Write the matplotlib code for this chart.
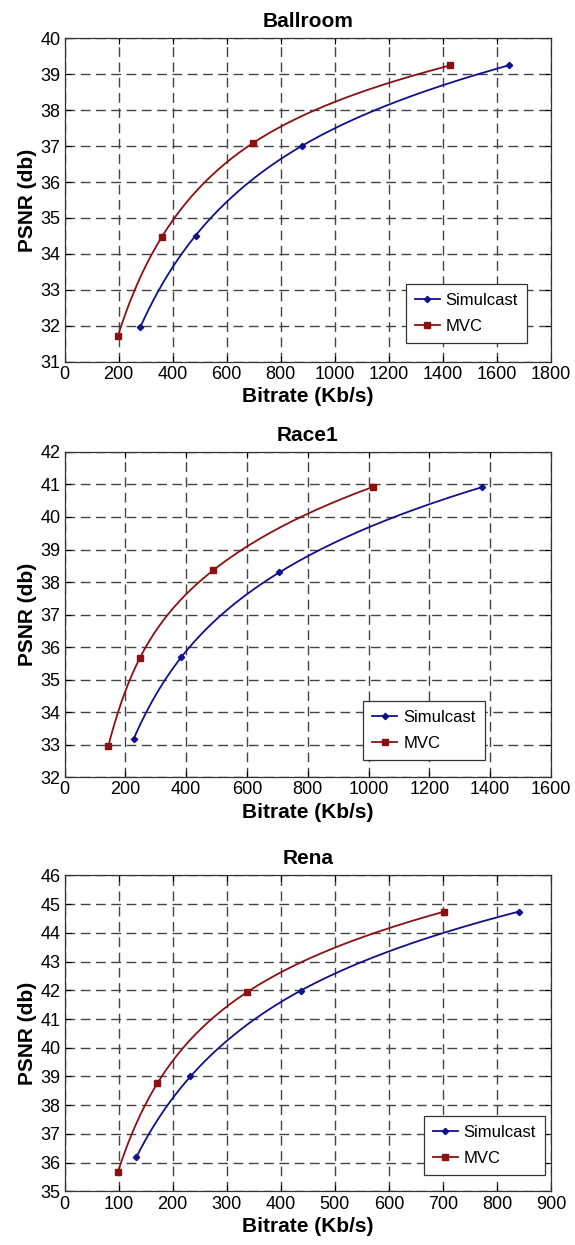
import numpy as np
import matplotlib.pyplot as plt

plt.rcParams['font.family'] = ['Liberation Sans', 'DejaVu Sans']

# ---- data ----
titles = ['Ballroom', 'Race1', 'Rena']

ballroom_sim_rate = [280, 485, 879, 1643]
ballroom_sim_psnr = [31.95, 34.51, 37.01, 39.25]
ballroom_mvc_rate = [198, 359, 698, 1427]
ballroom_mvc_psnr = [31.72, 34.46, 37.09, 39.25]

race_sim_rate = [227, 384, 707, 1374]
race_sim_psnr = [33.17, 35.69, 38.30, 40.92]
race_mvc_rate = [144, 248, 490, 1016]
race_mvc_psnr = [32.96, 35.67, 38.37, 40.93]

rena_sim_rate = [133, 233, 437, 840]
rena_sim_psnr = [36.19, 39.00, 41.99, 44.74]
rena_mvc_rate = [99, 172, 338, 702]
rena_mvc_psnr = [35.69, 38.77, 41.94, 44.74]

x_limits = [(0, 1800, 200), (0, 1600, 200), (0, 900, 100)]
y_limits = [(31, 40), (32, 42), (35, 46)]

BLUE = '#10108c'
RED = '#8c1010'


def smooth_curve(x, y, num=200):
    """natural cubic spline in log(rate) -- only for drawing the line"""
    lx = np.log(np.asarray(x, float))
    y = np.asarray(y, float)
    n = len(lx)
    h = np.diff(lx)
    A = np.zeros((n, n))
    b = np.zeros(n)
    A[0, 0] = A[-1, -1] = 1
    for k in range(1, n - 1):
        A[k, k - 1] = h[k - 1]
        A[k, k] = 2 * (h[k - 1] + h[k])
        A[k, k + 1] = h[k]
        b[k] = 3 * ((y[k + 1] - y[k]) / h[k] - (y[k] - y[k - 1]) / h[k - 1])
    c = np.linalg.solve(A, b)
    bb = (y[1:] - y[:-1]) / h - h * (2 * c[:-1] + c[1:]) / 3
    d = (c[1:] - c[:-1]) / (3 * h)
    xs = np.linspace(lx[0], lx[-1], num)
    idx = np.clip(np.searchsorted(lx, xs) - 1, 0, n - 2)
    t = xs - lx[idx]
    ys = y[idx] + bb[idx] * t + c[idx] * t**2 + d[idx] * t**3
    return np.exp(xs), ys


series = [
    (ballroom_sim_rate, ballroom_sim_psnr, ballroom_mvc_rate, ballroom_mvc_psnr),
    (race_sim_rate, race_sim_psnr, race_mvc_rate, race_mvc_psnr),
    (rena_sim_rate, rena_sim_psnr, rena_mvc_rate, rena_mvc_psnr),
]

fig = plt.figure(figsize=(5.75, 12.45), dpi=100)

# axes boxes in figure fractions (left, bottom, width, height)
boxes = [
    (0.1122, 0.7096, 0.846, 0.2595),
    (0.1122, 0.3757, 0.846, 0.2613),
    (0.1122, 0.0431, 0.846, 0.2537),
]
legend_anchor = [(0.951, 0.057), (0.864, 0.053), (0.988, 0.052)]

for i, box in enumerate(boxes):
    ax = fig.add_axes(box)
    sx, sy, mx, my = series[i]

    ax.plot(*smooth_curve(sx, sy), color=BLUE, lw=1.3, zorder=3)
    ax.plot(sx, sy, ls='none', marker='D', ms=3.2, color=BLUE, zorder=4)
    ax.plot(*smooth_curve(mx, my), color=RED, lw=1.3, zorder=3)
    ax.plot(mx, my, ls='none', marker='s', ms=4.5, color=RED, zorder=4)

    # legend proxies
    ax.plot([], [], color=BLUE, lw=1.3, marker='D', ms=3.2, label='Simulcast')
    ax.plot([], [], color=RED, lw=1.3, marker='s', ms=4.5, label='MVC')

    x0, x1, xstep = x_limits[i]
    y0, y1 = y_limits[i]
    ax.set_xlim(x0, x1)
    ax.set_ylim(y0, y1)
    ax.set_xticks(np.arange(x0, x1 + 1, xstep))
    ax.set_yticks(np.arange(y0, y1 + 1, 1))
    ax.tick_params(direction='in', top=True, right=True, labelsize=13,
                   length=4, width=0.8, pad=3)
    ax.grid(True, color='#444444', ls=(0, (7, 4)), lw=1.0)
    for sp in ax.spines.values():
        sp.set_linewidth(0.9)
        sp.set_color('#333333')

    ax.set_title(titles[i], fontsize=15, fontweight='bold', pad=8)
    ax.set_xlabel('Bitrate (Kb/s)', fontsize=15, fontweight='bold', labelpad=3)
    ax.set_ylabel('PSNR (db)', fontsize=15, fontweight='bold', labelpad=2)

    leg = ax.legend(loc='lower right', bbox_to_anchor=legend_anchor[i], fontsize=12,
                    frameon=True, fancybox=False, handlelength=1.5,
                    borderpad=0.55, labelspacing=0.65, handletextpad=0.35,
                    borderaxespad=0)
    leg.get_frame().set_edgecolor('#333333')
    leg.get_frame().set_linewidth(0.9)
    leg.get_frame().set_alpha(1)

fig.savefig('out.png', dpi=100)
